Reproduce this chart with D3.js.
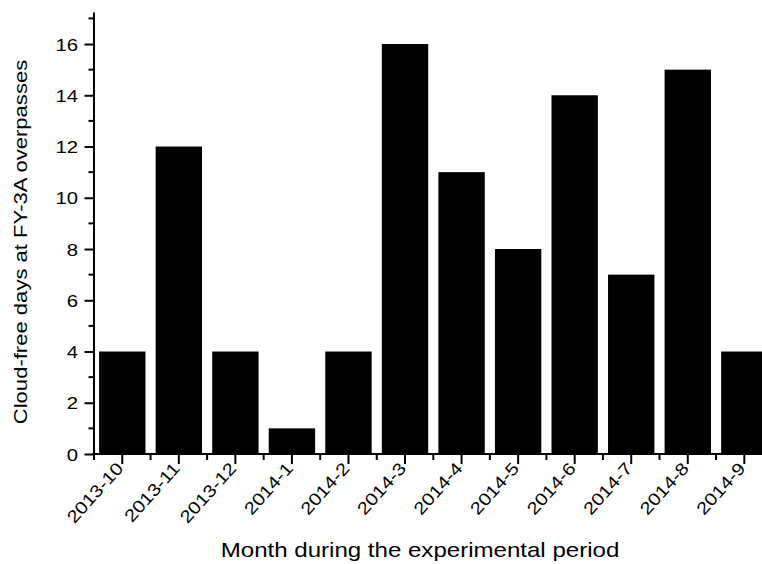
<!DOCTYPE html>
<html>
<head>
<meta charset="utf-8">
<script src="https://cdn.jsdelivr.net/npm/d3@7"></script>
<style>
  html, body { margin: 0; padding: 0; background: #fff; }
  svg { display: block; }
  text { font-family: "Liberation Sans", Arial, sans-serif; fill: #000; }
</style>
</head>
<body>
<svg id="chart" width="762" height="564"></svg>
<script>
// Monthly counts of cloud-free days at FY-3A overpass times
const months = ["2013-10", "2013-11", "2013-12", "2014-1", "2014-2", "2014-3",
                "2014-4", "2014-5", "2014-6", "2014-7", "2014-8", "2014-9"];
const cloudFreeDays = [4, 12, 4, 1, 4, 16, 11, 8, 14, 7, 15, 4];
const yTicks = [0, 2, 4, 6, 8, 10, 12, 14, 16];
const yMinorTicks = [1, 3, 5, 7, 9, 11, 13, 15, 17];

// glyphs are drawn somewhat wider than regular Arial
const WIDE = 1.18;

const svg = d3.select("#chart");

const x = d3.scaleBand()
  .domain(months)
  .range([94, 772.6])
  .paddingInner(0.18)
  .paddingOuter(0.09);

const y = d3.scaleLinear()
  .domain([0, 17.25])
  .range([454, 12]);

// bars
svg.append("g")
  .selectAll("rect")
  .data(months)
  .join("rect")
  .attr("x", d => x(d))
  .attr("y", (d, i) => y(cloudFreeDays[i]))
  .attr("width", x.bandwidth())
  .attr("height", (d, i) => y(0) - y(cloudFreeDays[i]))
  .attr("fill", "#000");

// y axis
const axisX = 93.5;
const yAxis = svg.append("g").attr("transform", `translate(${axisX},0)`);
yAxis.call(d3.axisLeft(y).tickValues(yTicks).tickSize(9).tickSizeOuter(0));
yAxis.select(".domain").attr("stroke", "#000").attr("stroke-width", 2);
yAxis.selectAll(".tick line").attr("stroke", "#000").attr("stroke-width", 2);
yAxis.selectAll(".tick text")
  .attr("x", 0)
  .attr("dy", "0.36em")
  .attr("font-size", 17.2)
  .attr("font-family", "Liberation Sans, Arial, sans-serif")
  .attr("transform", `translate(${78 - axisX},0) scale(${WIDE},1)`);
yAxis.selectAll(".minor")
  .data(yMinorTicks)
  .join("line")
  .attr("class", "minor")
  .attr("x1", -5).attr("x2", 0)
  .attr("y1", d => y(d)).attr("y2", d => y(d))
  .attr("stroke", "#000").attr("stroke-width", 2);

// x axis: major ticks at band centres, minor ticks at band boundaries
const xAxis = svg.append("g").attr("transform", "translate(0,454)");
xAxis.append("line")
  .attr("x1", 92.5).attr("x2", 762)
  .attr("stroke", "#000").attr("stroke-width", 2);
xAxis.selectAll(".major")
  .data(months)
  .join("line")
  .attr("class", "major")
  .attr("x1", d => x(d) + x.bandwidth() / 2)
  .attr("x2", d => x(d) + x.bandwidth() / 2)
  .attr("y1", 0).attr("y2", 10)
  .attr("stroke", "#000").attr("stroke-width", 2);
xAxis.selectAll(".minorx")
  .data(d3.range(0, 13))
  .join("line")
  .attr("class", "minorx")
  .attr("x1", i => x.range()[0] + i * x.step())
  .attr("x2", i => x.range()[0] + i * x.step())
  .attr("y1", 0).attr("y2", 6)
  .attr("stroke", "#000").attr("stroke-width", 2);
xAxis.selectAll(".xlabel")
  .data(months)
  .join("text")
  .attr("class", "xlabel")
  .attr("text-anchor", "end")
  .attr("font-size", 17.2)
  .attr("transform", d => `translate(${x(d) + x.bandwidth() / 2 + 2},15) rotate(-48) scale(${WIDE},1)`)
  .text(d => d);

// axis titles
svg.append("text")
  .attr("text-anchor", "middle")
  .attr("font-size", 20.4)
  .attr("transform", `translate(420,557) scale(${WIDE},1)`)
  .text("Month during the experimental period");

svg.append("text")
  .attr("text-anchor", "middle")
  .attr("font-size", 18.7)
  .attr("transform", `translate(27,242) rotate(-90) scale(${WIDE},1)`)
  .text("Cloud-free days at FY-3A overpasses");
</script>
</body>
</html>
